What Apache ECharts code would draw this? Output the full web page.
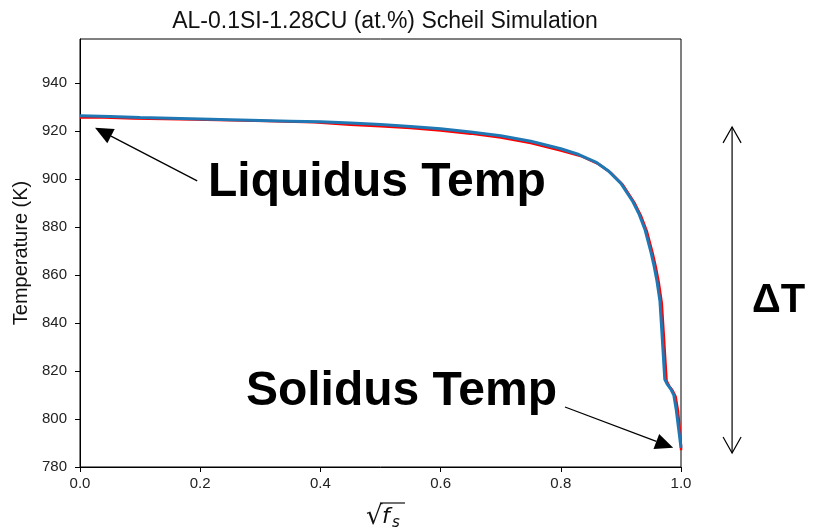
<!DOCTYPE html>
<html>
<head>
<meta charset="utf-8">
<script src="https://cdn.jsdelivr.net/npm/echarts@6/dist/echarts.min.js"></script>
<style>
  html, body { margin: 0; padding: 0; background: #fff; }
  #chart { width: 813px; height: 531px; }
</style>
</head>
<body>
<div id="chart"></div>
<script>
// Scheil solidification curve: temperature vs square root of solid fraction
const rootFs = [0, 0.05, 0.1, 0.15, 0.2, 0.25, 0.3, 0.35, 0.4, 0.45, 0.5, 0.55, 0.6, 0.65, 0.7, 0.75, 0.8, 0.83, 0.86, 0.88, 0.9, 0.92, 0.93, 0.94, 0.95, 0.955, 0.96, 0.965, 0.968, 0.973, 0.977, 0.983, 0.988, 0.992, 0.996, 0.999, 1.0];
const tempBlue = [926.4, 926.0, 925.6, 925.3, 925.0, 924.7, 924.4, 924.1, 923.8, 923.3, 922.7, 921.9, 920.9, 919.6, 918.0, 915.7, 912.6, 910.2, 906.8, 903.2, 898.2, 890.5, 885.5, 879.0, 869.5, 864.0, 857.5, 849.0, 837.0, 816.5, 814.5, 812.5, 810.0, 804.0, 796.0, 790.0, 788.0];

// Second curve, stepped at the start and trailing slightly to the right
const rootFsRed = [0, 0.04, 0.04, 0.09, 0.09, 0.19, 0.19, 0.31, 0.31, 0.39, 0.39, 0.45, 0.5, 0.55, 0.6, 0.65, 0.7, 0.75, 0.8, 0.833, 0.863, 0.883, 0.903, 0.923, 0.933, 0.943, 0.953, 0.958, 0.963, 0.968, 0.971, 0.976, 0.98, 0.986, 0.991, 0.995, 0.998, 1.0, 1.0];
const tempRed = [925.6, 925.6, 925.2, 925.2, 924.8, 924.8, 924.2, 924.2, 923.6, 923.6, 923.0, 922.6, 922.0, 921.2, 920.2, 918.9, 917.3, 915.0, 911.9, 909.6, 906.2, 902.6, 897.6, 889.9, 884.9, 878.4, 868.9, 863.4, 856.9, 848.4, 836.4, 815.9, 813.9, 811.9, 809.4, 803.4, 795.4, 789.0, 787.0];

const yTicks = [780, 800, 820, 840, 860, 880, 900, 920, 940];
const xTicks = [0, 0.2, 0.4, 0.6, 0.8, 1.0];

const titleText = 'AL-0.1SI-1.28CU (at.%) Scheil Simulation';
const yName = 'Temperature (K)';

// Annotation anchors in data units
const liquidusLabel = { text: 'Liquidus Temp', at: [0.213, 898.3] };
const liquidusArrow = { from: [0.195, 899.2], to: [0.025, 921.3] };
const solidusLabel = { text: 'Solidus Temp', at: [0.276, 811.3] };
const solidusArrow = { from: [0.807, 805.0], to: [0.987, 788.0] };
const deltaLabel = { text: 'ΔT', at: [1.118, 849.0] };
const deltaArrow = { x: 1.085, top: 921.7, bottom: 785.8 };

const pairs = (xs, ys) => xs.map((x, i) => [x, ys[i]]);

const chart = echarts.init(document.getElementById('chart'));
const tickColor = '#222';
const font = 'Liberation Sans, Arial, sans-serif';

chart.setOption({
  animation: false,
  title: {
    text: titleText,
    left: 380, top: 5, textAlign: 'center',
    textStyle: { fontFamily: font, fontSize: 23, fontWeight: 'normal', color: '#111' }
  },
  grid: { left: 80, right: 132, top: 39, bottom: 64, show: true, borderColor: '#000', borderWidth: 1 },
  xAxis: {
    type: 'value', min: 0, max: 1, interval: 0.2,
    axisLine: { show: true, lineStyle: { color: '#000' } },
    axisTick: { show: true, length: 5, lineStyle: { color: '#000' } },
    axisLabel: { color: tickColor, fontFamily: font, fontSize: 15, margin: 9,
                 customValues: xTicks, formatter: v => v.toFixed(1) },
    splitLine: { show: false }
  },
  yAxis: {
    type: 'value', min: 780, max: 958.33, interval: 20,
    name: yName, nameLocation: 'middle', nameGap: 49,
    nameTextStyle: { fontFamily: font, fontSize: 20, color: '#111' },
    axisLine: { show: true, lineStyle: { color: '#000' } },
    axisTick: { show: true, length: 5, customValues: yTicks, lineStyle: { color: '#000' } },
    axisLabel: { color: tickColor, fontFamily: font, fontSize: 15, margin: 13,
                 customValues: yTicks },
    splitLine: { show: false }
  },
  series: [
    {
      name: 'red', type: 'line', data: pairs(rootFsRed, tempRed), showSymbol: false,
      lineStyle: { color: '#ff0000', width: 2.5 }, z: 2
    },
    {
      name: 'blue', type: 'line', data: pairs(rootFs, tempBlue), showSymbol: false,
      lineStyle: { color: '#1f77b4', width: 3 }, z: 3
    }
  ]
});

// Annotations placed through the chart's own coordinate conversion
const px = p => chart.convertToPixel({ gridIndex: 0 }, p);

function filledArrow(fromData, toData) {
  const q = px(fromData), p = px(toData);
  const dx = p[0] - q[0], dy = p[1] - q[1];
  const len = Math.hypot(dx, dy);
  const ux = dx / len, uy = dy / len;
  const L = 18, W = 8;
  const bx = p[0] - ux * L, by = p[1] - uy * L;
  const nx = -uy, ny = ux;
  return [
    { type: 'line', shape: { x1: q[0], y1: q[1], x2: bx, y2: by },
      style: { stroke: '#000', lineWidth: 1.3 }, z: 10 },
    { type: 'polygon', shape: { points: [[p[0], p[1]], [bx + nx * W, by + ny * W], [bx - nx * W, by - ny * W]] },
      style: { fill: '#000' }, z: 10 }
  ];
}

function bigLabel(lbl) {
  const p = px(lbl.at);
  return { type: 'text', x: p[0], y: p[1],
    style: { text: lbl.text, fill: '#000', font: 'bold 48px Liberation Sans, Arial, sans-serif',
             align: 'left', verticalAlign: 'middle' }, z: 10 };
}

const dTop = px([deltaArrow.x, deltaArrow.top]);
const dBot = px([deltaArrow.x, deltaArrow.bottom]);
const hw = 9, hh = 16;

const graphics = [
  bigLabel(liquidusLabel),
  bigLabel(solidusLabel),
  { type: 'text', x: px(deltaLabel.at)[0], y: px(deltaLabel.at)[1],
    style: { text: deltaLabel.text, fill: '#000', font: 'bold 40px Liberation Sans, Arial, sans-serif',
             align: 'left', verticalAlign: 'middle' }, z: 10 },
  ...filledArrow(liquidusArrow.from, liquidusArrow.to),
  ...filledArrow(solidusArrow.from, solidusArrow.to),
  { type: 'line', shape: { x1: dTop[0], y1: dTop[1], x2: dBot[0], y2: dBot[1] },
    style: { stroke: '#000', lineWidth: 1.2 }, z: 10 },
  { type: 'polyline', shape: { points: [[dTop[0] - hw, dTop[1] + hh], [dTop[0], dTop[1]], [dTop[0] + hw, dTop[1] + hh]] },
    style: { stroke: '#000', lineWidth: 1.2, fill: null }, z: 10 },
  { type: 'polyline', shape: { points: [[dBot[0] - hw, dBot[1] - hh], [dBot[0], dBot[1]], [dBot[0] + hw, dBot[1] - hh]] },
    style: { stroke: '#000', lineWidth: 1.2, fill: null }, z: 10 },
  // x-axis title: square root of f_s
  { type: 'group', x: 366, y: 517, children: [
    { type: 'text', x: 0, y: 0, style: { text: '√', fill: '#111', font: '26px DejaVu Sans, sans-serif',
        align: 'left', verticalAlign: 'middle' } },
    { type: 'text', x: 16, y: 0, style: { text: 'f', fill: '#111', font: 'italic 22px DejaVu Sans, sans-serif',
        align: 'left', verticalAlign: 'middle' } },
    { type: 'text', x: 26, y: 6, style: { text: 's', fill: '#111', font: 'italic 15px DejaVu Sans, sans-serif',
        align: 'left', verticalAlign: 'middle' } },
    { type: 'line', shape: { x1: 14, y1: -14, x2: 39, y2: -14 }, style: { stroke: '#111', lineWidth: 1.2 } }
  ] }
];

chart.setOption({ graphic: graphics });
</script>
</body>
</html>
